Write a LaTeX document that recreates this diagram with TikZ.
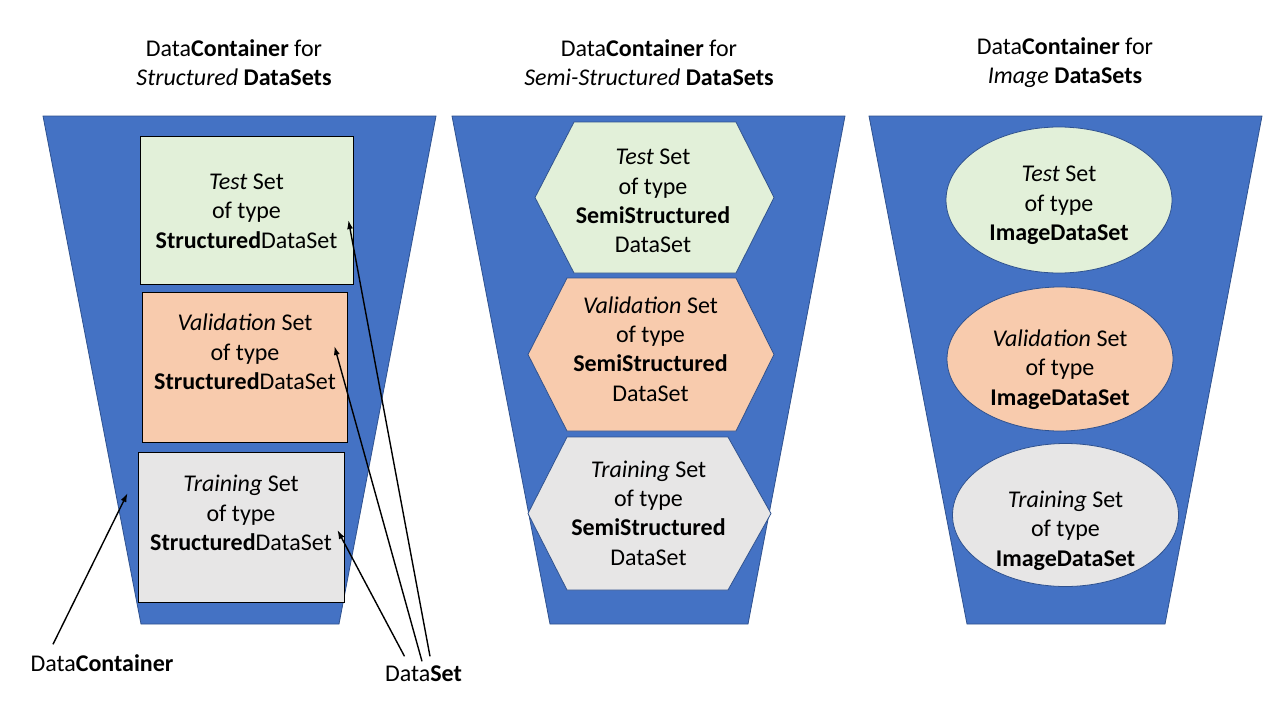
\documentclass[tikz,border=0pt]{standalone}
\usepackage{fontspec}
\setmainfont{Carlito}
\usepackage{xcolor}
\usepackage{tikz}
\usetikzlibrary{shapes,arrows.meta,positioning,calc}
\definecolor{containerblue}{HTML}{4472C4}
\definecolor{containeredge}{HTML}{2F528F}
\definecolor{testfill}{HTML}{E2F0D9}
\definecolor{valfill}{HTML}{F8CBAD}
\definecolor{trainfill}{HTML}{E7E6E6}
\newcommand{\setfont}{\fontsize{24pt}{29.3pt}\selectfont}
\tikzset{
    container/.style={fill=containerblue, draw=containeredge, line width=0.8pt},
    setbox/.style={rectangle, draw=black, line width=0.8pt},
    hexbox/.style={draw=containeredge, line width=0.8pt},
    ovalbox/.style={ellipse, draw=containeredge, line width=0.8pt},
    settext/.style={font=\setfont, align=center, inner sep=0pt},
    pointer/.style={-{Latex[length=9pt,width=6pt]}, line width=1.4pt}
}
\begin{document}
\begin{tikzpicture}[x=1pt, y=-1pt]
    \useasboundingbox[fill=white] (0,0) rectangle (1280,720);

    % Containers
    \foreach \x in {43,452,869}
        \draw[container] (\x,116) -- ++(393,0) -- ++(-97,508) -- ++(-198,0) -- cycle;

    % Titles
    \node[settext] (T1) at (234,62.5) {Data\textbf{Container} for\\\textit{Structured} \textbf{DataSets}};
    \node[settext] (T2) at (649,62.5) {Data\textbf{Container} for\\\textit{Semi-Structured} \textbf{DataSets}};
    \node[settext] (T3) at (1065,62.5) {Data\textbf{Container} for\\\textit{Image} \textbf{DataSets}};

    % Structured sets
    \foreach \n/\x/\y/\w/\h/\c in {Test/246.5/210/213/148/testfill,
                                   Val/244.5/367/205/150/valfill,
                                   Train/241/527/206/150/trainfill}
        \node[setbox, fill=\c, minimum width=\w pt, minimum height=\h pt] (R\n) at (\x,\y) {};
    \node[settext] (RTestText) at (246.5,211) {\textit{Test} Set\\of type\\\textbf{Structured}DataSet};
    \node[settext] (RValText) at (245,352) {\textit{Validation} Set\\of type\\\textbf{Structured}DataSet};
    \node[settext] (RTrainText) at (241,513) {\textit{Training} Set\\of type\\\textbf{Structured}DataSet};

    % Semi-structured sets
    \foreach \l/\a/\b/\r/\t/\u/\c in {535/574/736/774/122/273/testfill,
                                      528/567/736/774/278/431/valfill,
                                      528/567/728/771/437/590/trainfill}
        \draw[hexbox, fill=\c] (\l,{(\t+\u)/2}) -- (\a,\t) -- (\b,\t) -- (\r,{(\t+\u)/2})
            -- (\b,\u) -- (\a,\u) -- cycle;
    \node[settext] (HTestText) at (653,201) {\textit{Test} Set\\of type\\\textbf{SemiStructured}\\DataSet};
    \node[settext] (HValText) at (650.5,349) {\textit{Validation} Set\\of type\\\textbf{SemiStructured}\\DataSet};
    \node[settext] (HTrainText) at (648.5,513) {\textit{Training} Set\\of type\\\textbf{SemiStructured}\\DataSet};

    % Image sets
    \foreach \n/\x/\y/\h/\c in {Test/1059/200/146/testfill,
                                Val/1060/359/144/valfill,
                                Train/1065.5/515/143/trainfill}
        \node[ovalbox, fill=\c, minimum width=226pt, minimum height=\h pt] (E\n) at (\x,\y) {};
    \node[settext] (ETestText) at (1059,205.5) {\textit{Test} Set\\of type\\\textbf{ImageDataSet}};
    \node[settext] (EValText) at (1060,369.5) {\textit{Validation} Set\\of type\\\textbf{ImageDataSet}};
    \node[settext] (ETrainText) at (1065.5,530.5) {\textit{Training} Set\\of type\\\textbf{ImageDataSet}};

    % Labels and pointers
    \node[settext] (DC) at (102,663) {Data\textbf{Container}};
    \node[settext] (DS) at (423.5,673.5) {Data\textbf{Set}};
    \draw[pointer] ($(DC.north)+(-49,-10)$) -- ($(RTrain.west)+(-10,-34)$);
    \draw[pointer] ($(DS.north)+(-19,-9)$) -- ($(RTrain.east)+(-7,3)$);
    \draw[pointer] ($(DS.north)+(-1.5,-4)$) -- ($(RVal.east)+(-13,-21)$);
    \draw[pointer] ($(DS.north)+(6.5,-9)$) -- ($(RTest.east)+(-5,10)$);
\end{tikzpicture}
\end{document}
